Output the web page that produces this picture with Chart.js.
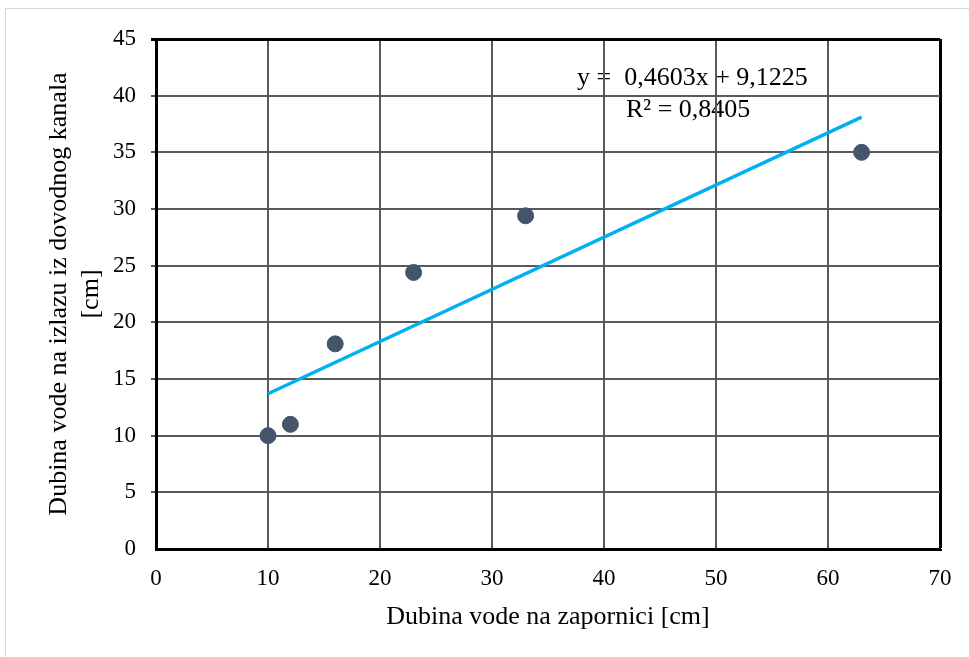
<!DOCTYPE html>
<html>
<head>
<meta charset="utf-8">
<script src="https://cdn.jsdelivr.net/npm/chart.js@4/dist/chart.umd.min.js"></script>
<style>
  html, body { margin: 0; padding: 0; background: #fff; overflow: hidden; }
  #wrap { position: relative; width: 969px; height: 657px; }
  #frame { position: absolute; left: 5px; top: 8px; width: 980px; height: 670px; border: 1px solid #d9d9d9; }
  canvas { position: absolute; left: 0; top: 0; }
</style>
</head>
<body>
<div id="wrap">
  <div id="frame"></div>
  <canvas id="chart" width="969" height="657"></canvas>
</div>
<script>
// measured points (x = depth at gate, y = depth at outlet)
const depthGate   = [10, 12, 16, 23, 33, 63];
const depthOutlet = [10, 11, 18.1, 24.4, 29.4, 35];

// trendline end points
const trendX = [10, 63];
const trendY = [13.7, 38.1];

const eqText = 'y =  0,4603x + 9,1225';
const r2Text = 'R² = 0,8405';

const SERIF = "'Liberation Serif', 'Times New Roman', serif";

const gridColor = v => (v === 0 ? 'rgba(0,0,0,0)' : '#595959');

// equation goes under the gridlines like in the original
const eqLabel = {
  id: 'eqLabel',
  beforeDraw(chart) {
    const ctx = chart.ctx;
    ctx.save();
    ctx.fillStyle = '#000';
    ctx.font = `26px ${SERIF}`;
    ctx.textBaseline = 'middle';
    ctx.textAlign = 'left';
    ctx.fillText(eqText, 577, 78);
    ctx.fillText(r2Text, 626, 110);
    ctx.restore();
  }
};

new Chart(document.getElementById('chart').getContext('2d'), {
  type: 'scatter',
  data: {
    datasets: [
      {
        label: 'Trend',
        type: 'line',
        data: trendX.map((x, i) => ({ x, y: trendY[i] })),
        borderColor: '#00B0F0',
        borderWidth: 3.5,
        pointRadius: 0,
        fill: false,
        order: 1
      },
      {
        label: 'Mjerenja',
        data: depthGate.map((x, i) => ({ x, y: depthOutlet[i] })),
        backgroundColor: '#44546A',
        borderColor: '#44546A',
        pointRadius: 8,
        order: 0
      }
    ]
  },
  options: {
    responsive: false,
    animation: false,
    devicePixelRatio: 1,
    layout: { padding: { top: 39, right: 29, left: 0, bottom: 0 } },
    plugins: { legend: { display: false }, tooltip: { enabled: false } },
    scales: {
      x: {
        type: 'linear',
        min: 0, max: 70,
        afterFit: s => { s.height = 108; },
        ticks: { stepSize: 10, color: '#000', padding: 16, font: { family: SERIF, size: 23 } },
        grid: {
          color: c => (c.tick && c.tick.value === 70 ? '#000' : gridColor(c.tick && c.tick.value)),
          lineWidth: c => (c.tick && c.tick.value === 70 ? 3 : 2),
          tickLength: 0
        },
        border: { display: true, color: '#000', width: 3 },
        title: {
          display: true,
          text: 'Dubina vode na zapornici [cm]',
          color: '#000',
          font: { family: SERIF, size: 26, lineHeight: 1.2 },
          padding: { top: 0, bottom: 24 }
        }
      },
      y: {
        type: 'linear',
        min: 0, max: 45,
        afterFit: s => { s.width = 156; },
        ticks: { stepSize: 5, color: '#000', padding: 15, font: { family: SERIF, size: 23 } },
        grid: {
          color: c => (c.tick && c.tick.value === 45 ? '#000' : gridColor(c.tick && c.tick.value)),
          lineWidth: c => (c.tick && c.tick.value === 45 ? 3 : 2),
          tickLength: 5
        },
        border: { display: true, color: '#000', width: 3 },
        title: {
          display: true,
          text: ['Dubina vode na izlazu iz dovodnog kanala', '[cm]'],
          color: '#000',
          font: { family: SERIF, size: 26, lineHeight: 1.2 },
          padding: { top: 44, bottom: 0 }
        }
      }
    }
  },
  plugins: [eqLabel]
});
</script>
</body>
</html>
